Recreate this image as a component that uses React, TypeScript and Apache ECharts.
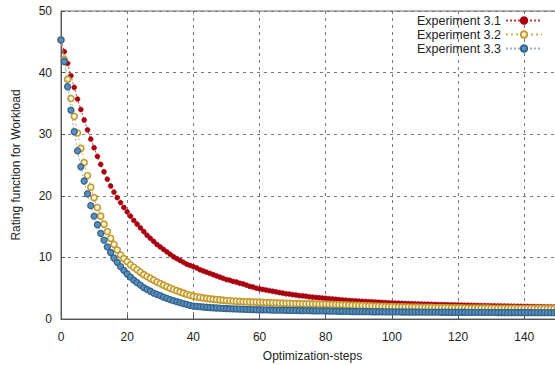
import React, { useEffect, useRef } from "react";
import * as echarts from "echarts";

const seriesNames = ["Experiment 3.1", "Experiment 3.2", "Experiment 3.3"];

const exp31 = [
  45.3, 43.4, 41.5, 39.5, 37.6, 35.7, 34.0, 32.3, 30.7, 29.2,
  27.8, 26.4, 25.1, 23.9, 22.7, 21.6, 20.6, 19.7, 18.9, 18.1,
  17.4, 16.7, 16.0, 15.4, 14.8, 14.2, 13.6, 13.1, 12.6, 12.1,
  11.7, 11.3, 10.9, 10.5, 10.1, 9.8, 9.5, 9.2, 8.9, 8.7,
  8.5, 8.3, 8.0, 7.8, 7.6, 7.4, 7.2, 7.0, 6.8, 6.6,
  6.4, 6.3, 6.1, 6.0, 5.8, 5.7, 5.5, 5.3, 5.2, 5.0,
  4.9, 4.8, 4.7, 4.6, 4.5, 4.4, 4.3, 4.2, 4.1, 4.05,
  3.95, 3.9, 3.8, 3.75, 3.7, 3.6, 3.55, 3.5, 3.45, 3.4,
  3.35, 3.3, 3.25, 3.2, 3.15, 3.1, 3.05, 3.0, 2.97, 2.94,
  2.9, 2.87, 2.84, 2.81, 2.78, 2.75, 2.72, 2.69, 2.66, 2.63,
  2.6, 2.58, 2.56, 2.54, 2.52, 2.5, 2.48, 2.46, 2.44, 2.42,
  2.4, 2.39, 2.37, 2.36, 2.34, 2.33, 2.31, 2.3, 2.29, 2.28,
  2.27, 2.25, 2.24, 2.23, 2.21, 2.2, 2.19, 2.18, 2.17, 2.15,
  2.14, 2.13, 2.12, 2.11, 2.1, 2.09, 2.08, 2.07, 2.06, 2.05,
  2.04, 2.03, 2.02, 2.01, 2.0, 1.99, 1.98, 1.97, 1.96, 1.95,
  1.94,
];

const exp32 = [
  45.3, 42.1, 38.9, 35.8, 32.9, 30.2, 27.7, 25.4, 23.3, 21.4,
  19.7, 18.1, 16.7, 15.4, 14.2, 13.1, 12.1, 11.2, 10.4, 9.8,
  9.3, 8.8, 8.4, 8.0, 7.6, 7.2, 6.9, 6.6, 6.3, 6.0,
  5.75, 5.5, 5.25, 5.0, 4.8, 4.6, 4.4, 4.2, 4.0, 3.85,
  3.7, 3.6, 3.5, 3.42, 3.35, 3.28, 3.22, 3.16, 3.1, 3.05,
  3.0, 2.96, 2.92, 2.88, 2.85, 2.82, 2.8, 2.78, 2.76, 2.74,
  2.72, 2.7, 2.68, 2.66, 2.64, 2.62, 2.6, 2.58, 2.56, 2.54,
  2.52, 2.5, 2.49, 2.48, 2.47, 2.46, 2.45, 2.44, 2.43, 2.42,
  2.4, 2.38, 2.36, 2.34, 2.32, 2.3, 2.28, 2.26, 2.24, 2.22,
  2.2, 2.18, 2.16, 2.14, 2.12, 2.1, 2.08, 2.06, 2.04, 2.02,
  2.0, 1.99, 1.98, 1.97, 1.96, 1.95, 1.94, 1.93, 1.92, 1.91,
  1.9, 1.89, 1.88, 1.87, 1.86, 1.85, 1.84, 1.83, 1.82, 1.81,
  1.8, 1.8, 1.79, 1.79, 1.78, 1.78, 1.77, 1.77, 1.76, 1.76,
  1.75, 1.75, 1.74, 1.74, 1.73, 1.73, 1.72, 1.72, 1.71, 1.71,
  1.7, 1.7, 1.7, 1.69, 1.69, 1.69, 1.68, 1.68, 1.68, 1.67,
  1.67,
];

const exp33 = [
  45.3, 41.8, 37.7, 33.9, 30.4, 27.3, 24.7, 22.4, 20.3, 18.4,
  16.7, 15.3, 13.9, 12.8, 11.7, 10.8, 9.9, 9.2, 8.5, 7.9,
  7.3, 6.8, 6.3, 5.9, 5.5, 5.1, 4.8, 4.5, 4.2, 4.0,
  3.8, 3.55, 3.35, 3.15, 2.98, 2.82, 2.66, 2.5, 2.36, 2.22,
  2.1, 2.05, 2.0, 1.95, 1.9, 1.86, 1.82, 1.79, 1.76, 1.73,
  1.7, 1.67, 1.65, 1.63, 1.61, 1.59, 1.57, 1.55, 1.53, 1.51,
  1.5, 1.49, 1.48, 1.47, 1.46, 1.45, 1.44, 1.43, 1.42, 1.41,
  1.4, 1.39, 1.38, 1.37, 1.36, 1.35, 1.34, 1.33, 1.32, 1.31,
  1.3, 1.29, 1.28, 1.27, 1.26, 1.25, 1.24, 1.23, 1.22, 1.21,
  1.2, 1.2, 1.19, 1.19, 1.18, 1.18, 1.17, 1.17, 1.16, 1.16,
  1.15, 1.15, 1.15, 1.14, 1.14, 1.14, 1.13, 1.13, 1.13, 1.12,
  1.12, 1.12, 1.11, 1.11, 1.11, 1.1, 1.1, 1.1, 1.1, 1.09,
  1.09, 1.09, 1.09, 1.08, 1.08, 1.08, 1.08, 1.07, 1.07, 1.07,
  1.07, 1.07, 1.06, 1.06, 1.06, 1.06, 1.06, 1.05, 1.05, 1.05,
  1.05, 1.05, 1.05, 1.04, 1.04, 1.04, 1.04, 1.04, 1.04, 1.03,
  1.03,
];

const xTicks = [0, 20, 40, 60, 80, 100, 120, 140];
const yTicks = [0, 10, 20, 30, 40, 50];

const toPairs = (vals: number[]) => vals.map((v, i) => [i, v]);

export default function App() {
  const ref = useRef<HTMLDivElement>(null);
  useEffect(() => {
    if (!ref.current) return;
    const chart = echarts.init(ref.current, undefined, { renderer: "svg" });
    const font = "Liberation Sans, Arial, sans-serif";
    const gridLine = { show: true, lineStyle: { color: "#777", type: [3, 4] as any, width: 1 } };
    chart.setOption({
      animation: false,
      backgroundColor: "#fff",
      textStyle: { fontFamily: font },
      grid: {
        left: 61,
        top: 11,
        width: 503,
        height: 308,
        show: true,
        borderColor: "#666",
        borderWidth: 1,
        backgroundColor: "transparent",
        containLabel: false,
        outerBoundsMode: "none",
      } as any,
      legend: {
        orient: "vertical",
        align: "right",
        right: 12,
        top: 14,
        padding: 0,
        itemGap: 1,
        itemWidth: 36,
        itemHeight: 8,
        textStyle: { fontSize: 12.5, lineHeight: 13, color: "#222", fontFamily: font },
        data: seriesNames,
      },
      xAxis: {
        type: "value",
        min: xTicks[0],
        max: 152,
        interval: xTicks[1] - xTicks[0],
        name: "Optimization-steps",
        nameLocation: "middle",
        nameGap: 31,
        nameTextStyle: { fontSize: 12, color: "#222", fontFamily: font },
        axisLine: { show: true, onZero: false, lineStyle: { color: "#555", width: 1 } },
        axisTick: { show: true, inside: true, length: 4, lineStyle: { color: "#555" } },
        axisLabel: {
          fontSize: 12,
          color: "#222",
          margin: 12,
          formatter: (v: number) => (xTicks.includes(v) ? String(v) : ""),
        },
        splitLine: gridLine,
      },
      yAxis: {
        type: "value",
        min: yTicks[0],
        max: yTicks[yTicks.length - 1],
        interval: yTicks[1] - yTicks[0],
        name: "Rating function for Workload",
        nameLocation: "middle",
        nameGap: 39,
        nameRotate: 90,
        nameTextStyle: { fontSize: 12, color: "#222", fontFamily: font },
        axisLine: { show: true, lineStyle: { color: "#555", width: 1 } },
        axisTick: { show: true, inside: true, length: 4, lineStyle: { color: "#555" } },
        axisLabel: { fontSize: 12, color: "#222", margin: 9 },
        splitLine: gridLine,
      },
      series: [
        {
          name: seriesNames[0],
          type: "line",
          data: toPairs(exp31),
          symbol: "circle",
          symbolSize: 5,
          showAllSymbol: true,
          itemStyle: { color: "#a8000f", borderColor: "#a8000f", borderWidth: 0.5 },
          lineStyle: { color: "#c23a3a", width: 1, type: [2, 2] as any },
          z: 2,
        },
        {
          name: seriesNames[1],
          type: "line",
          data: toPairs(exp32),
          symbol: "circle",
          symbolSize: 6,
          showAllSymbol: true,
          itemStyle: { color: "#fbf4df", borderColor: "#c49a2a", borderWidth: 1.6 },
          lineStyle: { color: "#cfae55", width: 1, type: [2, 3] as any },
          z: 3,
        },
        {
          name: seriesNames[2],
          type: "line",
          data: toPairs(exp33),
          symbol: "circle",
          symbolSize: 6,
          showAllSymbol: true,
          itemStyle: { color: "#5d8db8", borderColor: "#2f648f", borderWidth: 1.3 },
          lineStyle: { color: "#8fb0cc", width: 1, type: [2, 2] as any },
          z: 4,
        },
      ],
    });
    return () => chart.dispose();
  }, []);
  return (
    <div
      ref={ref}
      style={{ position: "fixed", left: 0, top: 0, width: 555, height: 365, background: "#fff" }}
    />
  );
}
